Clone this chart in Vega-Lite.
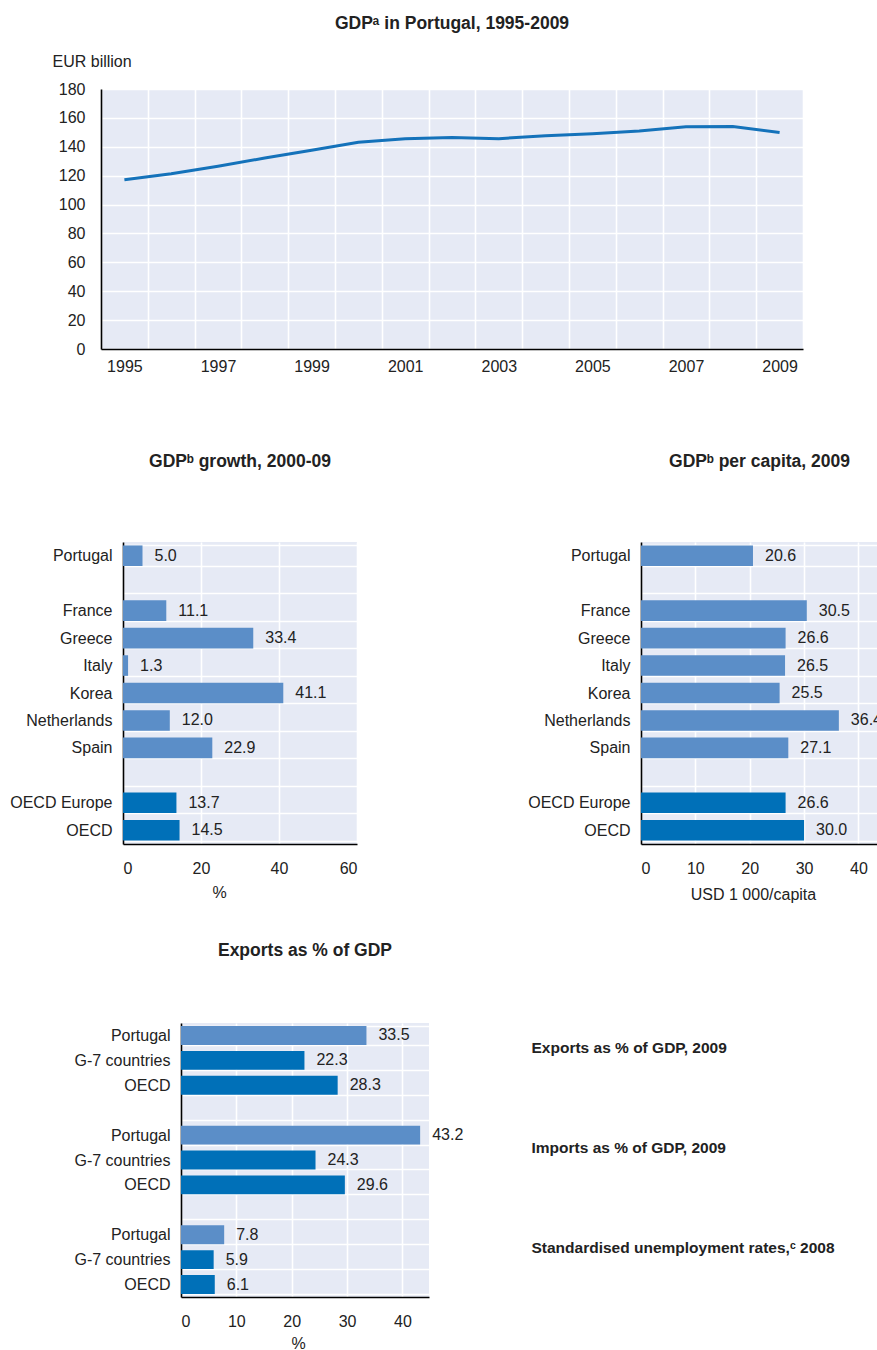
{
  "$schema": "https://vega.github.io/schema/vega-lite/v6.json",
  "padding": {"left": 0, "top": 14, "right": 0, "bottom": 0},
  "background": "white",
  "config": {
    "font": "Liberation Sans",
    "view": {"stroke": null, "fill": "#e6eaf5"},
    "axis": {
      "labelFont": "Liberation Sans", "labelFontSize": 16, "labelColor": "#222222",
      "titleFont": "Liberation Sans", "titleFontSize": 16, "titleFontWeight": "normal", "titleColor": "#222222",
      "domainColor": "#000000", "domainWidth": 1.6, "tickColor": "#000000", "tickWidth": 1.4, "tickSize": 0,
      "gridColor": "#ffffff", "gridWidth": 1.6, "gridOpacity": 1, "labelOverlap": false
    },
    "title": {"font": "Liberation Sans", "fontSize": 17.5, "fontWeight": "bold", "color": "#222222", "anchor": "middle"},
    "text": {"font": "Liberation Sans", "fontSize": 16, "color": "#222222"}
  },
  "spacing": 78,
  "vconcat": [
    {
      "spacing": 0,
      "hconcat": [
        {"width": 52, "height": 1, "view": {"fill": "white", "stroke": null}, "data": {"values": []}, "mark": "point"},
        {
          "width": 702, "height": 260,
          "title": {"text": "GDPᵃ in Portugal, 1995-2009", "offset": 21},
          "data": {"values": [
            {"year": 1995, "gdp": 117.2}, {"year": 1996, "gdp": 121.4}, {"year": 1997, "gdp": 126.5},
            {"year": 1998, "gdp": 132.2}, {"year": 1999, "gdp": 137.6}, {"year": 2000, "gdp": 143.2},
            {"year": 2001, "gdp": 145.5}, {"year": 2002, "gdp": 146.4}, {"year": 2003, "gdp": 145.6},
            {"year": 2004, "gdp": 147.6}, {"year": 2005, "gdp": 149.0}, {"year": 2006, "gdp": 151.0},
            {"year": 2007, "gdp": 153.8}, {"year": 2008, "gdp": 154.1}, {"year": 2009, "gdp": 149.9}
          ]},
          "mark": {"type": "line", "color": "#1472ba", "strokeWidth": 3},
          "encoding": {
            "x": {"field": "year", "type": "ordinal",
              "scale": {"type": "band", "paddingInner": 0, "paddingOuter": 0},
              "axis": {"title": null, "labelAngle": 0, "tickBand": "extent", "grid": true, "labelPadding": 9,
                "labelExpr": "datum.value % 2 == 1 ? datum.value : ''"}},
            "y": {"field": "gdp", "type": "quantitative",
              "scale": {"domain": [0, 180], "nice": false},
              "axis": {"title": "EUR billion", "titleAngle": 0, "titleAlign": "left", "titleBaseline": "middle",
                "titleX": -49, "titleY": -28, "values": [0, 20, 40, 60, 80, 100, 120, 140, 160, 180],
                "labelPadding": 16, "grid": true}}
          }
        }
      ]
    },
    {
      "spacing": 39,
      "vconcat": [
        {
          "spacing": 0,
          "hconcat": [
            {"width": 9, "height": 1, "view": {"fill": "white", "stroke": null}, "data": {"values": []}, "mark": "point"},
            {
              "spacing": 169,
              "hconcat": [
                {
                  "width": 234, "height": 302,
                  "title": {"text": "GDPᵇ growth, 2000-09", "offset": 64},
                  "data": {"values": [
                    {"country": "Portugal", "value": 5.0, "grp": "country"},
                    {"country": "France", "value": 11.1, "grp": "country"},
                    {"country": "Greece", "value": 33.4, "grp": "country"},
                    {"country": "Italy", "value": 1.3, "grp": "country"},
                    {"country": "Korea", "value": 41.1, "grp": "country"},
                    {"country": "Netherlands", "value": 12.0, "grp": "country"},
                    {"country": "Spain", "value": 22.9, "grp": "country"},
                    {"country": "OECD Europe", "value": 13.7, "grp": "aggregate"},
                    {"country": "OECD", "value": 14.5, "grp": "aggregate"}
                  ]},
                  "encoding": {
                    "y": {"field": "country", "type": "nominal",
                      "scale": {"domain": ["Portugal", "gap1", "France", "Greece", "Italy", "Korea", "Netherlands", "Spain", "gap2", "OECD Europe", "OECD"], "paddingInner": 0.25, "paddingOuter": 0.125},
                      "axis": {"title": null, "tickBand": "extent", "grid": true, "labelPadding": 11,
                        "labelExpr": "datum.value == 'gap1' || datum.value == 'gap2' ? '' : datum.value"}},
                    "x": {"field": "value", "type": "quantitative",
                      "scale": {"domain": [0, 60], "nice": false},
                      "axis": {"title": "%", "values": [0, 20, 40, 60], "grid": true, "labelPadding": 16,
                        "titleX": 96, "titleY": 48, "titleBaseline": "middle"}}
                  },
                  "layer": [
                    {"mark": {"type": "bar"},
                      "encoding": {"color": {"field": "grp", "type": "nominal", "scale": {"domain": ["country", "aggregate"], "range": ["#5b8ec8", "#0070b8"]}, "legend": null}}},
                    {"mark": {"type": "text", "align": "left", "baseline": "middle", "dx": 12},
                      "encoding": {"text": {"field": "value", "type": "quantitative", "format": ".1f"}}}
                  ]
                },
                {
                  "width": 237, "height": 302,
                  "title": {"text": "GDPᵇ per capita, 2009", "offset": 64},
                  "data": {"values": [
                    {"country": "Portugal", "value": 20.6, "grp": "country"},
                    {"country": "France", "value": 30.5, "grp": "country"},
                    {"country": "Greece", "value": 26.6, "grp": "country"},
                    {"country": "Italy", "value": 26.5, "grp": "country"},
                    {"country": "Korea", "value": 25.5, "grp": "country"},
                    {"country": "Netherlands", "value": 36.4, "grp": "country"},
                    {"country": "Spain", "value": 27.1, "grp": "country"},
                    {"country": "OECD Europe", "value": 26.6, "grp": "aggregate"},
                    {"country": "OECD", "value": 30.0, "grp": "aggregate"}
                  ]},
                  "encoding": {
                    "y": {"field": "country", "type": "nominal",
                      "scale": {"domain": ["Portugal", "gap1", "France", "Greece", "Italy", "Korea", "Netherlands", "Spain", "gap2", "OECD Europe", "OECD"], "paddingInner": 0.25, "paddingOuter": 0.125},
                      "axis": {"title": null, "tickBand": "extent", "grid": true, "labelPadding": 11,
                        "labelExpr": "datum.value == 'gap1' || datum.value == 'gap2' ? '' : datum.value"}},
                    "x": {"field": "value", "type": "quantitative",
                      "scale": {"domain": [0, 43.6], "nice": false},
                      "axis": {"title": "USD 1 000/capita", "values": [0, 10, 20, 30, 40], "grid": true, "labelPadding": 16,
                        "titleX": 112, "titleY": 50, "titleBaseline": "middle"}}
                  },
                  "layer": [
                    {"mark": {"type": "bar"},
                      "encoding": {"color": {"field": "grp", "type": "nominal", "scale": {"domain": ["country", "aggregate"], "range": ["#5b8ec8", "#0070b8"]}, "legend": null}}},
                    {"mark": {"type": "text", "align": "left", "baseline": "middle", "dx": 12},
                      "encoding": {"text": {"field": "value", "type": "quantitative", "format": ".1f"}}}
                  ]
                }
              ]
            }
          ]
        },
        {
          "spacing": 0,
          "hconcat": [
            {"width": 73, "height": 1, "view": {"fill": "white", "stroke": null}, "data": {"values": []}, "mark": "point"},
            {
              "width": 248, "height": 274,
              "title": {"text": "Exports as % of GDP", "offset": 56},
              "data": {"values": [
                {"key": "p1", "country": "Portugal", "value": 33.5, "grp": "country"},
                {"key": "g1", "country": "G-7 countries", "value": 22.3, "grp": "aggregate"},
                {"key": "o1", "country": "OECD", "value": 28.3, "grp": "aggregate"},
                {"key": "p2", "country": "Portugal", "value": 43.2, "grp": "country"},
                {"key": "g2", "country": "G-7 countries", "value": 24.3, "grp": "aggregate"},
                {"key": "o2", "country": "OECD", "value": 29.6, "grp": "aggregate"},
                {"key": "p3", "country": "Portugal", "value": 7.8, "grp": "country"},
                {"key": "g3", "country": "G-7 countries", "value": 5.9, "grp": "aggregate"},
                {"key": "o3", "country": "OECD", "value": 6.1, "grp": "aggregate"}
              ]},
              "encoding": {
                "x": {"field": "value", "type": "quantitative",
                  "scale": {"domain": [0, 44.8], "nice": false},
                  "axis": {"title": "%", "values": [0, 10, 20, 30, 40], "grid": true, "labelPadding": 16,
                    "titleX": 117, "titleY": 46, "titleBaseline": "middle"}}
              },
              "layer": [
                {"mark": {"type": "bar"},
                  "encoding": {
                    "y": {"field": "key", "type": "nominal",
                      "scale": {"domain": ["p1", "g1", "o1", "gap1", "p2", "g2", "o2", "gap2", "p3", "g3", "o3"], "paddingInner": 0.24, "paddingOuter": 0.12},
                      "axis": {"title": null, "tickBand": "extent", "grid": true, "labelPadding": 11,
                        "labelExpr": "datum.value == 'p1' || datum.value == 'p2' || datum.value == 'p3' ? 'Portugal' : datum.value == 'g1' || datum.value == 'g2' || datum.value == 'g3' ? 'G-7 countries' : datum.value == 'o1' || datum.value == 'o2' || datum.value == 'o3' ? 'OECD' : ''"}},
                    "color": {"field": "grp", "type": "nominal", "scale": {"domain": ["country", "aggregate"], "range": ["#5b8ec8", "#0070b8"]}, "legend": null}}},
                {"mark": {"type": "text", "align": "left", "baseline": "middle", "dx": 12},
                  "encoding": {
                    "y": {"field": "key", "type": "nominal",
                      "scale": {"domain": ["p1", "g1", "o1", "gap1", "p2", "g2", "o2", "gap2", "p3", "g3", "o3"], "paddingInner": 0.24, "paddingOuter": 0.12},
                      "axis": {"title": null, "orient": "right", "domain": false, "ticks": false, "grid": false,
                        "labelPadding": 102, "labelAlign": "left", "labelLimit": 0, "labelOffset": -12,
                        "labelFont": "Liberation Sans", "labelFontWeight": "bold", "labelFontSize": 15.5,
                        "labelExpr": "datum.value == 'g1' ? 'Exports as % of GDP, 2009' : datum.value == 'g2' ? 'Imports as % of GDP, 2009' : datum.value == 'g3' ? 'Standardised unemployment rates,ᶜ 2008' : ''"}},
                    "text": {"field": "value", "type": "quantitative", "format": ".1f"}}}
              ],
              "resolve": {"axis": {"y": "independent"}}
            }
          ]
        }
      ]
    }
  ]
}
